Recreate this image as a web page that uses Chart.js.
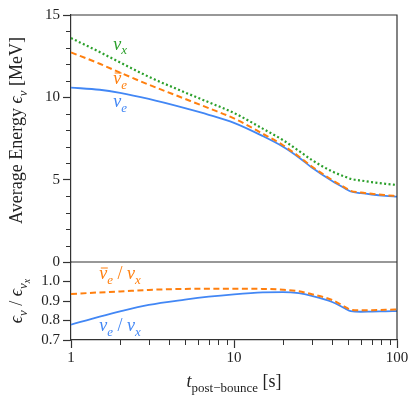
<!DOCTYPE html>
<html>
<head>
<meta charset="utf-8">
<script src="https://cdn.jsdelivr.net/npm/chart.js@4/dist/chart.umd.min.js"></script>
<style>
  html, body { margin: 0; padding: 0; background: #fff; }
  canvas { display: block; }
</style>
</head>
<body>
<canvas id="energyChart" width="415" height="395"></canvas>
<script>
// Energies moyennes des neutrinos apres le rebond, et rapports a nu_x

const times = [1, 1.5, 2, 3, 5, 7, 10, 15, 20, 25, 30, 40, 48, 52, 60, 70, 85, 100];
const energyNuX = [13.6, 12.75, 12.12, 11.25, 10.3, 9.7, 9.05, 8.1, 7.4, 6.75, 6.2, 5.5, 5.18, 5.05, 4.95, 4.85, 4.75, 4.68];
const energyAntiNuE = [12.73, 12.04, 11.5, 10.77, 9.91, 9.34, 8.72, 7.79, 7.09, 6.41, 5.8, 4.98, 4.51, 4.32, 4.22, 4.14, 4.06, 4.0];
const energyNuE = [10.59, 10.46, 10.27, 9.9, 9.34, 8.94, 8.45, 7.65, 7.0, 6.35, 5.74, 4.92, 4.47, 4.28, 4.18, 4.1, 4.02, 3.97];
const ratioAntiNuE = [0.936, 0.944, 0.949, 0.957, 0.962, 0.963, 0.963, 0.962, 0.958, 0.95, 0.935, 0.905, 0.87, 0.855, 0.852, 0.853, 0.855, 0.856];
const ratioNuE = [0.779, 0.82, 0.847, 0.88, 0.907, 0.922, 0.934, 0.944, 0.946, 0.94, 0.926, 0.895, 0.862, 0.848, 0.845, 0.846, 0.847, 0.848];

const timeTicks = [1, 10, 100];
const timeMinorTicks = [2, 3, 4, 5, 6, 7, 8, 9, 20, 30, 40, 50, 60, 70, 80, 90];
const energyTicks = [0, 5, 10, 15];
const energyMinorTicks = [1, 2, 3, 4, 6, 7, 8, 9, 11, 12, 13, 14];
const ratioTicks = [0.7, 0.8, 0.9, 1.0];

const colors = {
  green: '#2ca02c',
  orange: '#ff7f0e',
  blue: '#4287f5',
  axis: '#333333',
  text: '#222222'
};

const serif = "'Liberation Serif', 'DejaVu Serif', serif";

function toPoints(values) {
  return times.map((t, i) => ({ x: t, y: values[i] }));
}

// texte avec indices (nu_e, epsilon_nu, ...)
function drawRich(ctx, parts, x, y, size, color, align) {
  ctx.save();
  ctx.fillStyle = color;
  ctx.textBaseline = 'alphabetic';
  ctx.textAlign = 'left';
  const fontFor = p => {
    const s = size * (p.level === 2 ? 0.55 : p.level === 1 ? 0.72 : 1);
    return (p.italic ? 'italic ' : '') + s + 'px ' + serif;
  };
  let total = 0;
  parts.forEach(p => { ctx.font = fontFor(p); p.w = ctx.measureText(p.t).width; total += p.w; });
  let cx = align === 'center' ? x - total / 2 : x;
  parts.forEach(p => {
    ctx.font = fontFor(p);
    const dy = p.level === 2 ? size * 0.42 : p.level === 1 ? size * 0.25 : 0;
    ctx.fillText(p.t, cx, y + dy);
    if (p.bar) {
      ctx.strokeStyle = color;
      ctx.lineWidth = 1;
      ctx.beginPath();
      ctx.moveTo(cx + 1.5, y - size * 0.62);
      ctx.lineTo(cx + p.w + 0.5, y - size * 0.62);
      ctx.stroke();
    }
    cx += p.w;
  });
  ctx.restore();
}

const framePlugin = {
  id: 'frame',
  afterDraw(chart) {
    const ctx = chart.ctx;
    const area = chart.chartArea;
    const xs = chart.scales.x, ys = chart.scales.y, yr = chart.scales.yRatio;

    ctx.save();
    ctx.strokeStyle = colors.axis;
    ctx.lineWidth = 1.2;
    ctx.beginPath();
    ctx.moveTo(area.left, area.top);
    ctx.lineTo(area.right, area.top);
    ctx.lineTo(area.right, area.bottom);
    ctx.moveTo(area.left, ys.bottom);
    ctx.lineTo(area.right, ys.bottom);
    ctx.stroke();
    ctx.restore();

    // graduations secondaires
    ctx.save();
    ctx.fillStyle = colors.axis;
    energyMinorTicks.forEach(v => {
      const py = Math.round(ys.getPixelForValue(v));
      ctx.fillRect(area.left - 5, py, 5, 1);
    });
    timeMinorTicks.forEach(v => {
      const px = Math.round(xs.getPixelForValue(v));
      ctx.fillRect(px, area.bottom, 1, 5);
    });
    ctx.restore();

    // titres des axes
    ctx.save();
    ctx.translate(16, (ys.top + ys.bottom) / 2 - 8);
    ctx.rotate(-Math.PI / 2);
    drawRich(ctx, [
      { t: 'Average Energy ' },
      { t: '\u03F5', italic: true },
      { t: '\u03BD', italic: true, level: 1 },
      { t: ' [MeV]' }
    ], 0, 6, 18, colors.text, 'center');
    ctx.restore();

    ctx.save();
    ctx.translate(16, (yr.top + yr.bottom) / 2);
    ctx.rotate(-Math.PI / 2);
    drawRich(ctx, [
      { t: '\u03F5', italic: true },
      { t: '\u03BD', italic: true, level: 1 },
      { t: ' / ', italic: false },
      { t: '\u03F5', italic: true },
      { t: '\u03BD', italic: true, level: 1 },
      { t: 'x', italic: true, level: 2 }
    ], 0, 6, 18, colors.text, 'center');
    ctx.restore();

    drawRich(ctx, [
      { t: 't', italic: true },
      { t: 'post\u2212bounce', level: 1 },
      { t: ' [s]' }
    ], (area.left + area.right) / 2, 387, 18, colors.text, 'center');

    // etiquettes des courbes
    const lx = xs.getPixelForValue(2);
    drawRich(ctx, [{ t: '\u03BD', italic: true }, { t: 'x', italic: true, level: 1 }],
      lx, ys.getPixelForValue(12.9), 18, colors.green, 'center');
    drawRich(ctx, [{ t: '\u03BD', italic: true, bar: true }, { t: 'e', italic: true, level: 1 }],
      lx, ys.getPixelForValue(10.8), 18, colors.orange, 'center');
    drawRich(ctx, [{ t: '\u03BD', italic: true }, { t: 'e', italic: true, level: 1 }],
      lx, ys.getPixelForValue(9.4), 18, colors.blue, 'center');

    drawRich(ctx, [
      { t: '\u03BD', italic: true, bar: true }, { t: 'e', italic: true, level: 1 },
      { t: ' / ' }, { t: '\u03BD', italic: true }, { t: 'x', italic: true, level: 1 }
    ], lx, yr.getPixelForValue(1.012), 18, colors.orange, 'center');
    drawRich(ctx, [
      { t: '\u03BD', italic: true }, { t: 'e', italic: true, level: 1 },
      { t: ' / ' }, { t: '\u03BD', italic: true }, { t: 'x', italic: true, level: 1 }
    ], lx, yr.getPixelForValue(0.745), 18, colors.blue, 'center');
  }
};

function initEnergyChart() {
  const canvas = document.getElementById('energyChart');
  if (!canvas || !window.Chart) {
    console.warn('Chart.js not loaded');
    return;
  }

  const tickFont = { family: serif, size: 15 };

  new Chart(canvas, {
    type: 'line',
    data: {
      datasets: [
        {
          data: toPoints(energyNuX), yAxisID: 'y',
          borderColor: colors.green, borderWidth: 2.2, borderDash: [2, 2.4]
        },
        {
          data: toPoints(energyAntiNuE), yAxisID: 'y',
          borderColor: colors.orange, borderWidth: 2, borderDash: [6, 3.5]
        },
        {
          data: toPoints(energyNuE), yAxisID: 'y',
          borderColor: colors.blue, borderWidth: 1.8
        },
        {
          data: toPoints(ratioAntiNuE), yAxisID: 'yRatio',
          borderColor: colors.orange, borderWidth: 2, borderDash: [6, 3.5]
        },
        {
          data: toPoints(ratioNuE), yAxisID: 'yRatio',
          borderColor: colors.blue, borderWidth: 1.8
        }
      ]
    },
    options: {
      responsive: false,
      animation: false,
      devicePixelRatio: 1,
      layout: { padding: { top: 15, right: 18, left: 0, bottom: 0 } },
      elements: {
        point: { radius: 0 },
        line: { cubicInterpolationMode: 'monotone', fill: false }
      },
      scales: {
        x: {
          type: 'logarithmic',
          min: 1,
          max: 100,
          afterFit: s => { s.height = 55; },
          afterBuildTicks: s => { s.ticks = timeTicks.map(v => ({ value: v })); },
          ticks: {
            autoSkip: false, maxRotation: 0, padding: 1,
            color: colors.text, font: tickFont,
            callback: v => String(v)
          },
          grid: { drawOnChartArea: false, tickLength: 8, color: colors.axis, tickWidth: 1.2 },
          border: { color: colors.axis, width: 1.2 }
        },
        // l'ordre compte : le premier axe de la pile est en bas
        yRatio: {
          type: 'linear',
          position: 'left',
          stack: 'panels',
          stackWeight: 78,
          min: 0.7,
          max: 1.1,
          afterFit: s => { s.width = 71; },
          afterBuildTicks: s => { s.ticks = ratioTicks.map(v => ({ value: v })); },
          ticks: { autoSkip: false, padding: 3, color: colors.text, font: tickFont, callback: v => Number(v).toFixed(1) },
          grid: { drawOnChartArea: false, tickLength: 8, color: colors.axis, tickWidth: 1.2 },
          border: { color: colors.axis, width: 1.2 }
        },
        y: {
          type: 'linear',
          position: 'left',
          stack: 'panels',
          stackWeight: 247,
          min: 0,
          max: 15,
          afterFit: s => { s.width = 71; },
          afterBuildTicks: s => { s.ticks = energyTicks.map(v => ({ value: v })); },
          ticks: { autoSkip: false, padding: 3, color: colors.text, font: tickFont, callback: v => String(v) },
          grid: { drawOnChartArea: false, tickLength: 8, color: colors.axis, tickWidth: 1.2 },
          border: { color: colors.axis, width: 1.2 }
        }
      },
      plugins: {
        legend: { display: false },
        tooltip: { enabled: false }
      }
    },
    plugins: [framePlugin]
  });
}

initEnergyChart();
</script>
</body>
</html>
